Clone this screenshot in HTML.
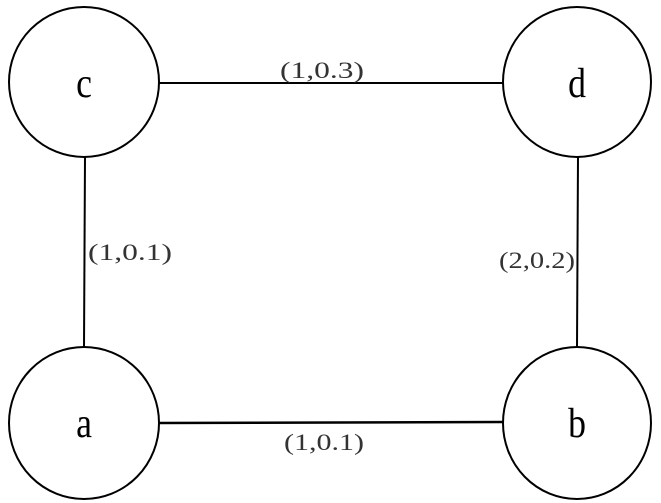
<!DOCTYPE html>
<html><head><meta charset="utf-8"><style>
html,body{margin:0;padding:0;background:#fff;}
svg{display:block;}
</style></head><body>
<svg width="661" height="503" viewBox="0 0 661 503" xmlns="http://www.w3.org/2000/svg">
<g stroke="#000" stroke-width="2" fill="none">
<ellipse cx="84" cy="82" rx="75" ry="75"/>
<ellipse cx="577" cy="82" rx="74" ry="75"/>
<ellipse cx="84" cy="423" rx="75" ry="76"/>
<ellipse cx="577" cy="423" rx="74" ry="76"/>
<line x1="159" y1="83" x2="503" y2="83"/>
<line x1="159" y1="423" x2="503" y2="422" stroke-width="2.5"/>
<line x1="85" y1="157" x2="84" y2="347"/>
<line x1="578" y1="157" x2="577" y2="347"/>
</g>
<g font-family="Liberation Serif, serif" fill="#000" text-anchor="middle">
<text x="84" y="97" font-size="42" transform="translate(84 0) scale(0.85 1) translate(-84 0)">c</text>
<text x="577" y="97" font-size="42" transform="translate(577 0) scale(0.85 1) translate(-577 0)">d</text>
<text x="84" y="437" font-size="42" transform="translate(84 0) scale(0.85 1) translate(-84 0)">a</text>
<text x="577" y="437" font-size="42" transform="translate(577 0) scale(0.85 1) translate(-577 0)">b</text>
</g>
<g font-family="Liberation Serif, serif" fill="#333" style="font-size:23px">
<text x="280" y="78" textLength="84" lengthAdjust="spacingAndGlyphs">(1,0.3)</text>
<text x="88" y="260" textLength="84" lengthAdjust="spacingAndGlyphs">(1,0.1)</text>
<text x="499" y="268" textLength="76" lengthAdjust="spacingAndGlyphs">(2,0.2)</text>
<text x="284" y="450" textLength="80" lengthAdjust="spacingAndGlyphs">(1,0.1)</text>
</g>
</svg>
</body></html>
